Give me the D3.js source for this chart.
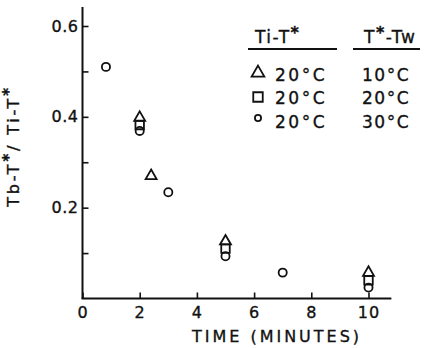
<!DOCTYPE html>
<html>
<head>
<meta charset="utf-8">
<script src="https://cdn.jsdelivr.net/npm/d3@7"></script>
<style>
  html, body { margin: 0; padding: 0; background: #fff; }
  svg { display: block; }
  text { font-family: "DejaVu Sans", sans-serif; fill: #111; stroke: #111; stroke-width: 0.35px; }
  .star { font-weight: bold; }
</style>
</head>
<body>
<svg id="chart" width="429" height="348"></svg>
<script>
// Dimensionless temperature ratio vs time, three driving temperature differences
const triTime = [2, 2.4, 5, 10];
const triValue = [0.398, 0.27, 0.126, 0.057];
const sqTime = [2, 5, 10];
const sqValue = [0.382, 0.11, 0.04];
const circTime = [0.82, 2, 3, 5, 7, 10];
const circValue = [0.51, 0.369, 0.234, 0.093, 0.057, 0.024];

const xTicks = [0, 2, 4, 6, 8, 10];
const yTicks = [0.1, 0.2, 0.3, 0.4, 0.5, 0.6];
const yLabelled = [0.2, 0.4, 0.6];

const legendTiT = ["20°C", "20°C", "20°C"];
const legendTTw = ["10°C", "20°C", "30°C"];
const legendShapes = ["triangle", "square", "circle"];

const svg = d3.select("#chart");
const ink = "#111";

const x = d3.scaleLinear().domain([0, 10]).range([82.5, 368.5]);
const y = d3.scaleLinear().domain([0, 0.6]).range([298.5, 26]);

// Axis lines
svg.append("line")
  .attr("x1", x(0)).attr("x2", x(0))
  .attr("y1", y(0)).attr("y2", y(0.642))
  .attr("stroke", ink).attr("stroke-width", 2);
svg.append("line")
  .attr("x1", x(0) - 1).attr("x2", x(10.8))
  .attr("y1", y(0)).attr("y2", y(0))
  .attr("stroke", ink).attr("stroke-width", 2);

// Y axis: inward ticks, labels on every other tick
const yAxis = d3.axisLeft(y)
  .tickValues(yTicks)
  .tickSize(-6)
  .tickPadding(4)
  .tickFormat(d => yLabelled.some(v => Math.abs(v - d) < 1e-9) ? d3.format(".1f")(d) : "");
const gy = svg.append("g").attr("transform", `translate(${x(0)},0)`).call(yAxis);
gy.select(".domain").remove();
gy.selectAll(".tick line").attr("stroke", ink).attr("stroke-width", 1.6);
gy.selectAll(".tick text")
  .attr("font-family", "DejaVu Sans").attr("font-size", 16)
  .attr("fill", ink).attr("letter-spacing", 0.5);

// X axis: inward ticks
const xAxis = d3.axisBottom(x)
  .tickValues(xTicks)
  .tickSize(-6)
  .tickPadding(8)
  .tickFormat(d3.format("d"));
const gx = svg.append("g").attr("transform", `translate(0,${y(0)})`).call(xAxis);
gx.select(".domain").remove();
gx.selectAll(".tick line").attr("stroke", ink).attr("stroke-width", 1.6);
gx.selectAll(".tick text")
  .attr("font-family", "DejaVu Sans").attr("font-size", 16)
  .attr("fill", ink).attr("letter-spacing", 1);

// Axis titles
svg.append("text")
  .attr("x", 277).attr("y", 342)
  .attr("text-anchor", "middle")
  .attr("font-size", 16)
  .attr("letter-spacing", 3)
  .text("TIME (MINUTES)");

const yTitle = svg.append("text")
  .attr("transform", "translate(19,146) rotate(-90)")
  .attr("text-anchor", "middle")
  .attr("font-size", 16)
  .attr("letter-spacing", 2.8);
yTitle.append("tspan").text("Tb-T");
yTitle.append("tspan").attr("class", "star").attr("font-size", 15).attr("dy", -5).text("*");
yTitle.append("tspan").attr("dy", 5).text("/ Ti-T");
yTitle.append("tspan").attr("class", "star").attr("font-size", 15).attr("dy", -5).text("*");

// Markers
const sym = {
  triangle: d3.symbol().type(d3.symbolTriangle),
  square: d3.symbol().type(d3.symbolSquare),
  circle: d3.symbol().type(d3.symbolCircle)
};

function plotSeries(times, values, shape, size) {
  svg.append("g").selectAll("path")
    .data(times.map((t, i) => ({ t, v: values[i] })))
    .join("path")
    .attr("transform", d => `translate(${x(d.t)},${y(d.v)})`)
    .attr("d", sym[shape].size(size)())
    .attr("fill", "none")
    .attr("stroke", ink)
    .attr("stroke-width", 1.8);
}
plotSeries(sqTime, sqValue, "square", 72);
plotSeries(triTime, triValue, "triangle", 52);
plotSeries(circTime, circValue, "circle", 52);

// Legend
const lg = svg.append("g");
const h1 = lg.append("text").attr("x", 255).attr("y", 43).attr("font-size", 17).attr("letter-spacing", 1.5);
h1.append("tspan").text("Ti-T");
h1.append("tspan").attr("class", "star").attr("font-size", 16).attr("dy", -5).text("*");
const h2 = lg.append("text").attr("x", 364).attr("y", 43).attr("font-size", 17).attr("letter-spacing", 1.5);
h2.append("tspan").text("T");
h2.append("tspan").attr("class", "star").attr("font-size", 16).attr("dy", -5).text("*");
h2.append("tspan").attr("dy", 5).text("-Tw");

lg.append("line").attr("x1", 248).attr("x2", 337).attr("y1", 49).attr("y2", 49)
  .attr("stroke", ink).attr("stroke-width", 2);
lg.append("line").attr("x1", 353).attr("x2", 420).attr("y1", 49).attr("y2", 49)
  .attr("stroke", ink).attr("stroke-width", 2);

const rowY = [81, 104, 128];
const legendSize = { triangle: 70, square: 90, circle: 30 };
const legendDy = { triangle: -8, square: -7, circle: -10 };
legendShapes.forEach((s, i) => {
  lg.append("path")
    .attr("transform", `translate(258,${rowY[i] + legendDy[s]})`)
    .attr("d", sym[s].size(legendSize[s])())
    .attr("fill", "none").attr("stroke", ink).attr("stroke-width", 1.8);
  lg.append("text").attr("x", 275).attr("y", rowY[i])
    .attr("font-size", 17).attr("letter-spacing", 2.5).text(legendTiT[i]);
  lg.append("text").attr("x", 362).attr("y", rowY[i])
    .attr("font-size", 17).attr("letter-spacing", 1.5).text(legendTTw[i]);
});
</script>
</body>
</html>
